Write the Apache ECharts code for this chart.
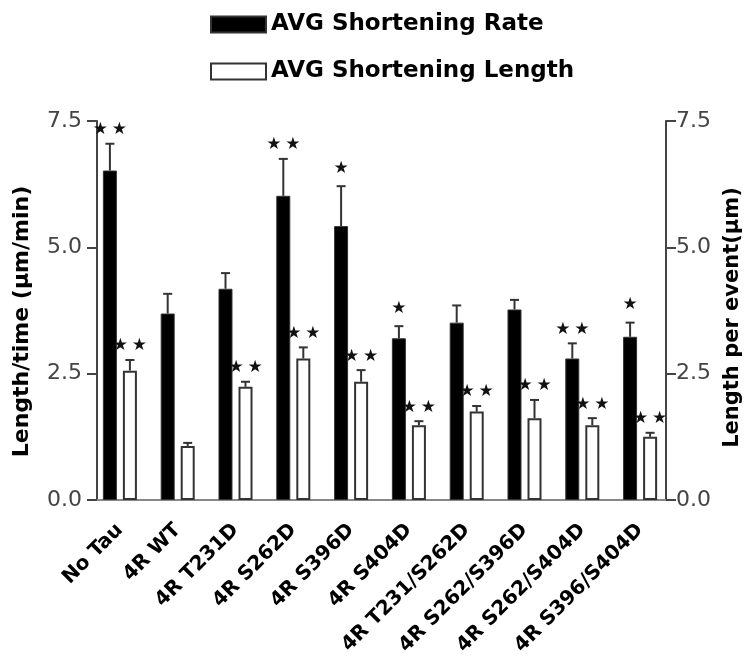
<!DOCTYPE html>
<html>
<head>
<meta charset="utf-8">
<script src="https://cdn.jsdelivr.net/npm/echarts@6/dist/echarts.min.js"></script>
<style>html,body{margin:0;padding:0;background:#fff}#c{width:751px;height:669px}</style>
</head>
<body>
<div id="c"></div>
<script>
const categories = ['No Tau','4R WT','4R T231D','4R S262D','4R S396D','4R S404D','4R T231/S262D','4R S262/S396D','4R S262/S404D','4R S396/S404D'];
const rateMean = [6.52, 3.69, 4.18, 6.02, 5.42, 3.20, 3.51, 3.77, 2.80, 3.23];
const rateErrTop = [7.05, 4.08, 4.49, 6.75, 6.21, 3.44, 3.85, 3.96, 3.10, 3.51];
const lengthMean = [2.56, 1.07, 2.24, 2.80, 2.34, 1.48, 1.75, 1.62, 1.48, 1.25];
const lengthErrTop = [2.77, 1.13, 2.34, 3.02, 2.57, 1.56, 1.86, 1.98, 1.62, 1.33];
const rateStars = [2, 0, 0, 2, 1, 1, 0, 0, 2, 1];
const lengthStars = [2, 0, 2, 2, 2, 2, 2, 2, 2, 2];
const yTicks = ['0.0', '2.5', '5.0', '7.5'];

const chart = echarts.init(document.getElementById('c'));
const BAR_W = 14, BAR_GAP = 6;
const OFF = (BAR_W + BAR_GAP) / 2;

function errSeries(name, mean, top, stars, axisIdx, offset) {
  return {
    type: 'custom', name: name + ' err', yAxisIndex: axisIdx, silent: true, z: 5,
    data: mean.map((m, i) => [i, m, top[i], stars[i]]),
    encode: { x: 0, y: 2 },
    renderItem: function (params, api) {
      const i = api.value(0);
      const pTop = api.coord([i, api.value(2)]);
      const pBase = api.coord([i, api.value(1)]);
      const x = pTop[0] + offset;
      const children = [
        { type: 'line', shape: { x1: x, y1: pBase[1], x2: x, y2: pTop[1] }, style: { stroke: '#333', lineWidth: 2 } },
        { type: 'line', shape: { x1: x - 4.5, y1: pTop[1], x2: x + 4.5, y2: pTop[1] }, style: { stroke: '#333', lineWidth: 2 } }
      ];
      const n = api.value(3);
      const xs = n === 2 ? [x - 9.5, x + 9.5] : (n === 1 ? [x] : []);
      const ys = pTop[1] - (n === 1 ? 18 : 14);
      xs.forEach(sx => children.push({
        type: 'text', style: { x: sx, y: ys, text: '\u2605', fill: '#111', fontSize: 17, align: 'center', verticalAlign: 'middle', fontFamily: 'DejaVu Sans' }
      }));
      return { type: 'group', children: children };
    }
  };
}

const yAxisCommon = {
  type: 'value', min: 0, max: 7.5, interval: 2.5,
  nameLocation: 'middle', nameRotate: 90,
  nameTextStyle: { fontFamily: 'DejaVu Sans', fontWeight: 'bold', fontSize: 22, color: '#000', padding: [0, 22, 0, 0] },
  axisLine: { show: true, lineStyle: { color: '#444', width: 2 } },
  axisTick: { show: true, length: 10, lineStyle: { color: '#444', width: 2 } },
  axisLabel: { fontFamily: 'DejaVu Sans', fontSize: 22, color: '#444', margin: 15, formatter: v => yTicks[Math.round(v / 2.5)] },
  splitLine: { show: false }
};

chart.setOption({
  animation: false,
  backgroundColor: '#fff',
  legend: {
    orient: 'vertical', left: 205, top: 8, itemWidth: 55, itemHeight: 16, itemGap: 24, icon: 'rect',
    textStyle: { fontFamily: 'DejaVu Sans', fontWeight: 'bold', fontSize: 23, color: '#000' },
    data: ['AVG Shortening Rate', 'AVG Shortening Length']
  },
  grid: { left: 91, right: 80, top: 121, bottom: 169 },
  xAxis: {
    type: 'category', data: categories,
    axisLine: { show: true, lineStyle: { color: '#888', width: 2 } },
    axisTick: { show: false },
    axisLabel: { rotate: 45, interval: 0, margin: 27, fontFamily: 'DejaVu Sans', fontWeight: 'bold', fontSize: 20, color: '#000' }
  },
  yAxis: [
    Object.assign({}, yAxisCommon, { position: 'left', offset: -6, name: 'Length/time (\u00b5m/min)', nameGap: 64 }),
    Object.assign({}, yAxisCommon, { position: 'right', offset: -3, name: 'Length per event(\u00b5m)', nameGap: 56,
      nameTextStyle: Object.assign({}, yAxisCommon.nameTextStyle, { fontSize: 21, padding: [0, 14, 0, 0] }),
      axisLabel: Object.assign({}, yAxisCommon.axisLabel, { margin: 10 }) })
  ],
  series: [
    { name: 'AVG Shortening Rate', type: 'bar', data: rateMean, barWidth: BAR_W, barGap: '43%', yAxisIndex: 0,
      itemStyle: { color: '#000', borderColor: '#333', borderWidth: 1 } },
    { name: 'AVG Shortening Length', type: 'bar', data: lengthMean, barWidth: BAR_W, barGap: '43%', yAxisIndex: 1,
      itemStyle: { color: '#fff', borderColor: '#333', borderWidth: 2 } },
    errSeries('rate', rateMean, rateErrTop, rateStars, 0, -OFF),
    errSeries('length', lengthMean, lengthErrTop, lengthStars, 1, OFF)
  ]
});
</script>
</body>
</html>
